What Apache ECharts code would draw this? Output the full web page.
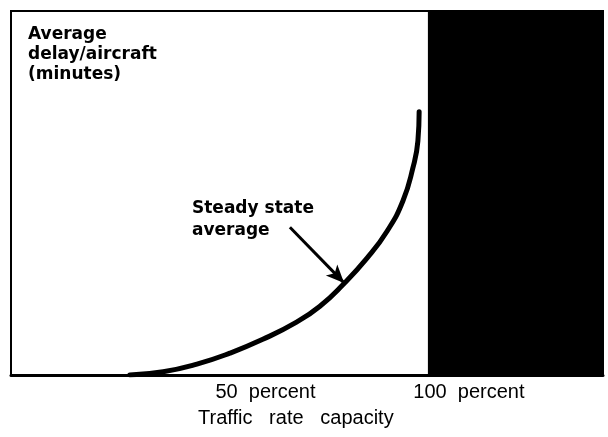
<!DOCTYPE html>
<html>
<head>
<meta charset="utf-8">
<script src="https://cdn.jsdelivr.net/npm/echarts@6/dist/echarts.min.js"></script>
<style>
  html, body { margin: 0; padding: 0; background: #fff; }
  #chart { width: 608px; height: 437px; }
</style>
</head>
<body>
<div id="chart"></div>
<script>
// traffic rate (percent of capacity) vs average delay (arbitrary units, 0-100)
var rate = [28.5, 36.5, 44.6, 52.5, 60.4, 68.6, 74.1, 79.6, 85.4, 90.2, 94, 96.4, 97.6, 97.9];
var delay = [0, 0.9, 3.0, 6.0, 9.8, 14.6, 18.9, 24.8, 32.1, 39.5, 47.8, 56.9, 64.3, 72.3];
var tickValues = [50, 100];
var capacity = 100;
var xMax = 142;
var arrowFrom = [66.9, 40.6];
var arrowTo = [79.9, 25.3];

var chartDom = document.getElementById('chart');
var myChart = echarts.init(chartDom);

var points = rate.map(function (r, i) { return [r, delay[i]]; });

var option = {
    animation: false,
    backgroundColor: '#fff',
    grid: {
        left: 11, top: 11, right: 5, bottom: 62,
        show: true, borderColor: '#000', borderWidth: 2, backgroundColor: '#fff'
    },
    xAxis: {
        type: 'value',
        min: 0,
        max: xMax,
        axisLine: { show: true, lineStyle: { color: '#000', width: 3 } },
        axisTick: { show: false },
        splitLine: { show: false },
        axisLabel: {
            customValues: tickValues,
            margin: 7,
            color: '#000',
            formatter: function (v) {
                return '{h' + v + '| }{n|' + v + '  percent}';
            },
            rich: {
                h50: { width: 92, fontSize: 20 },
                h100: { width: 82, fontSize: 20 },
                n: { color: '#000', fontSize: 20, fontFamily: 'Liberation Sans' }
            }
        }
    },
    yAxis: {
        type: 'value',
        min: 0,
        max: 100,
        axisLine: { show: true, lineStyle: { color: '#000', width: 2 } },
        axisTick: { show: false },
        axisLabel: { show: false },
        splitLine: { show: false }
    },
    graphic: [
        {
            type: 'text', left: 28, top: 25,
            style: {
                text: 'Average\ndelay/aircraft\n(minutes)',
                font: 'bold 17px "DejaVu Sans"', fill: '#000', lineHeight: 20
            }
        },
        {
            type: 'text', left: 192, top: 198,
            style: {
                text: 'Steady state\naverage',
                font: 'bold 17px "DejaVu Sans"', fill: '#000', lineHeight: 22
            }
        },
        {
            type: 'text', left: 198, top: 408,
            style: {
                text: 'Traffic   rate   capacity',
                font: '20px "Liberation Sans"', fill: '#000'
            }
        }
    ],
    series: [
        {
            type: 'line',
            data: points,
            smooth: 0.5,
            symbol: 'none',
            lineStyle: { color: '#000', width: 5, cap: 'round' },
            markArea: {
                silent: true,
                itemStyle: { color: '#000' },
                data: [[{ xAxis: capacity }, { xAxis: xMax }]]
            },
            markLine: {
                silent: true,
                symbol: ['none', 'arrow'],
                symbolSize: [12, 18],
                label: { show: false },
                lineStyle: { color: '#000', width: 3, type: 'solid' },
                data: [[{ coord: arrowFrom }, { coord: arrowTo }]]
            }
        }
    ]
};

option && myChart.setOption(option);
</script>
</body>
</html>
